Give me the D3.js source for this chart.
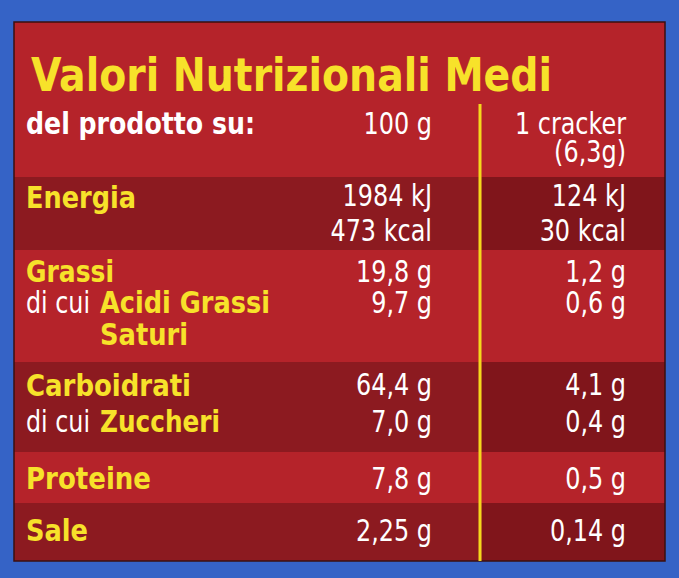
<!DOCTYPE html>
<html>
<head>
<meta charset="utf-8">
<script src="https://cdn.jsdelivr.net/npm/d3@7"></script>
<style>
  body { margin: 0; background: #3563c6; }
  text { font-family: "DejaVu Sans Condensed", "DejaVu Sans", sans-serif; }
</style>
</head>
<body>
<svg id="chart" width="679" height="578"></svg>
<script>
"use strict";

// row bands: [top, bottom, dark?]
const bandTops = [22, 177, 250, 362, 452, 503];
const bandBottoms = [177, 250, 362, 452, 503, 561];
const bandDark = [false, true, false, true, false, true];

// nutrient labels: [text, x, baseline, colour, weight, width]
const labels = [
  ["del prodotto su:", 26, 134, "#ffffff", "bold", 229],
  ["Energia", 26, 208, "#f7e22a", "bold", 110],
  ["Grassi", 26, 282, "#f7e22a", "bold", 88],
  ["di cui", 26, 313, "#ffffff", "normal", 64],
  ["Acidi Grassi", 100, 313, "#f7e22a", "bold", 170],
  ["Saturi", 100, 345, "#f7e22a", "bold", 88],
  ["Carboidrati", 26, 396, "#f7e22a", "bold", 165],
  ["di cui", 26, 432, "#ffffff", "normal", 64],
  ["Zuccheri", 100, 432, "#f7e22a", "bold", 120],
  ["Proteine", 26, 489, "#f7e22a", "bold", 125],
  ["Sale", 26, 541, "#f7e22a", "bold", 62],
];

// values per 100 g and per cracker, with baselines
const valueBaselines = [134, 206, 241, 282, 313, 395, 432, 489, 541];
const per100 = ["100 g", "1984 kJ", "473 kcal", "19,8 g", "9,7 g", "64,4 g", "7,0 g", "7,8 g", "2,25 g"];
const perCracker = ["1 cracker", "124 kJ", "30 kcal", "1,2 g", "0,6 g", "4,1 g", "0,4 g", "0,5 g", "0,14 g"];
const crackerNote = ["(6,3g)", 162];

const svg = d3.select("#chart");
const g = svg.append("g");

// panel bands
g.selectAll(".band")
  .data(bandTops)
  .enter()
  .append("rect")
  .attr("x", 14)
  .attr("y", d => d)
  .attr("width", 651)
  .attr("height", (d, i) => bandBottoms[i] - d)
  .attr("fill", (d, i) => (bandDark[i] ? "#8c1a20" : "#b5232a"));

// slightly darker right column in the dark rows
g.selectAll(".bandRight")
  .data(bandTops.filter((d, i) => bandDark[i]))
  .enter()
  .append("rect")
  .attr("x", 482)
  .attr("y", d => d)
  .attr("width", 183)
  .attr("height", d => bandBottoms[bandTops.indexOf(d)] - d)
  .attr("fill", "#6e1014")
  .attr("opacity", 0.4);

g.append("rect")
  .attr("x", 14).attr("y", 22).attr("width", 651).attr("height", 539)
  .attr("fill", "none").attr("stroke", "#3a1010").attr("stroke-width", 1.5);

// divider
g.append("line")
  .attr("x1", 480).attr("x2", 480).attr("y1", 104).attr("y2", 561)
  .attr("stroke", "#f4d81c").attr("stroke-width", 3);

// title
g.append("text")
  .attr("x", 31).attr("y", 91)
  .attr("font-size", 47).attr("font-weight", "bold")
  .attr("fill", "#f7e22a")
  .attr("textLength", 521).attr("lengthAdjust", "spacingAndGlyphs")
  .text("Valori Nutrizionali Medi");

g.selectAll(".label")
  .data(labels)
  .enter()
  .append("text")
  .attr("x", d => d[1])
  .attr("y", d => d[2])
  .attr("font-size", 30)
  .attr("font-weight", d => d[4])
  .attr("fill", d => d[3])
  .attr("textLength", d => d[5])
  .attr("lengthAdjust", "spacingAndGlyphs")
  .text(d => d[0]);

function valueColumn(values, xRight) {
  g.selectAll(null)
    .data(values)
    .enter()
    .append("text")
    .attr("transform", (d, i) => `translate(${xRight},${valueBaselines[i]}) scale(0.95,1.08)`)
    .attr("text-anchor", "end")
    .attr("font-size", 28)
    .attr("fill", "#ffffff")
    .text(d => d);
}

valueColumn(per100, 432);
valueColumn(perCracker, 626);

g.append("text")
  .attr("transform", `translate(626,${crackerNote[1]}) scale(0.95,1.08)`)
  .attr("text-anchor", "end")
  .attr("font-size", 28).attr("fill", "#ffffff")
  .text(crackerNote[0]);
</script>
</body>
</html>
